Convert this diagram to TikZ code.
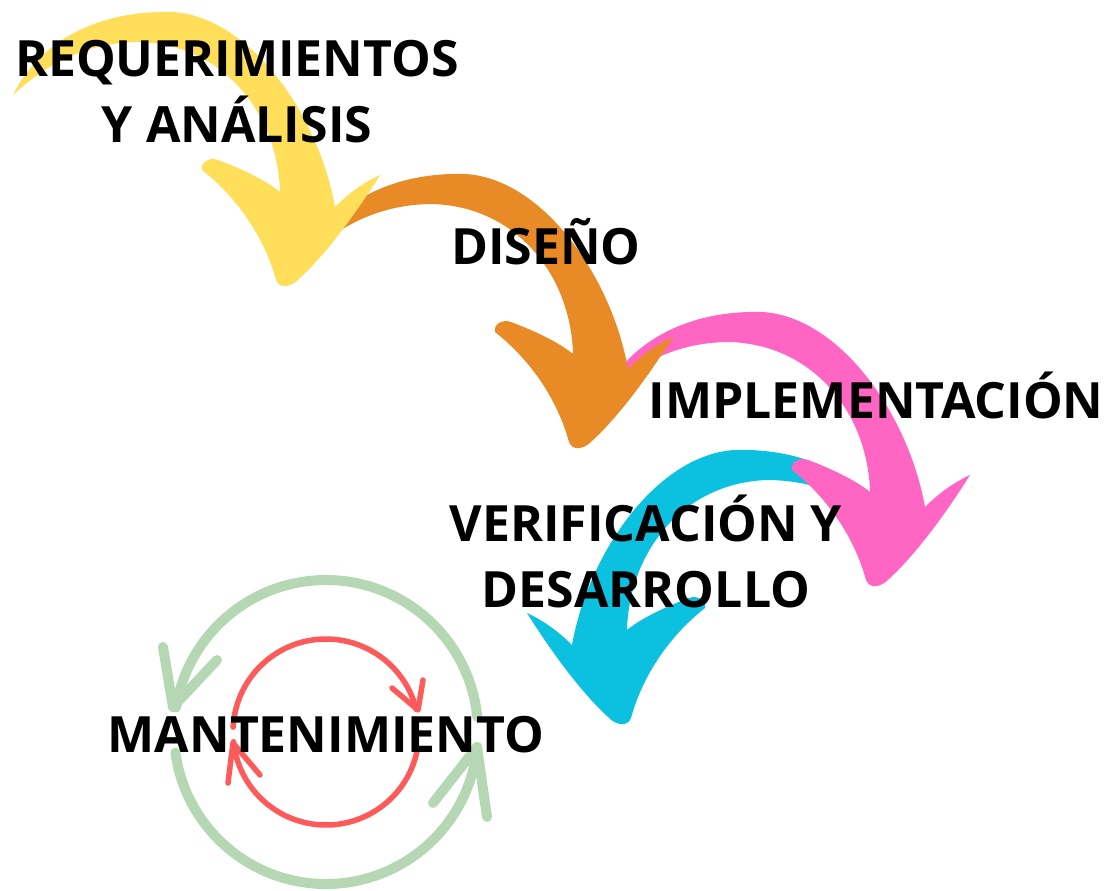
\documentclass[tikz,border=0pt]{standalone}
\usepackage{fontspec}
\setmainfont{Open Sans}
\definecolor{amarillo}{HTML}{FFDE59}
\definecolor{naranja}{HTML}{E88A25}
\definecolor{rosa}{HTML}{FF66C4}
\definecolor{celeste}{HTML}{0CC0DF}
\definecolor{verde}{HTML}{B6D7B4}
\definecolor{rojo}{HTML}{FF5A5A}
% contorno de una flecha curva (la amarilla, en px)
\newcommand{\flecha}{(13,95) .. controls (40,40) and (100,10) .. (172,12)
  .. controls (248,16) and (318,112) .. (335,207)
  .. controls (350,192) and (365,182) .. (380,175)
  .. controls (355,215) and (325,255) .. (300,278)
  .. controls (292,287) and (280,290) .. (276,280)
  .. controls (265,240) and (240,200) .. (202,170)
  .. controls (200,162) and (210,157) .. (218,160)
  .. controls (245,170) and (268,182) .. (280,192)
  .. controls (278,115) and (225,45) .. (140,42)
  .. controls (80,42) and (40,70) .. (13,95) -- cycle}
\tikzset{
  etiqueta/.style={font=\fontsize{50}{66}\selectfont\bfseries, align=center, inner sep=0pt},
  aro/.style={line cap=round, line join=round}
}
\begin{document}
\begin{tikzpicture}[x=1pt,y=-1pt]
  \useasboundingbox (0,0) rectangle (1106,891);
  % flechas
  \fill[celeste, shift={(907,438)}, xscale=-1] \flecha;
  \fill[rosa, shift={(590,300)}] \flecha;
  \fill[naranja, shift={(293,162)}] \flecha;
  \fill[amarillo] \flecha;
  % ciclo de mantenimiento
  \coordinate (c) at (326,732);
  \begin{scope}[aro, verde, line width=10pt]
    \draw (c) ++(-5.7:152) arc[start angle=-5.7, end angle=-170.7, radius=152];
    \draw (c) ++(172.2:152) arc[start angle=172.2, end angle=5.7, radius=152];
    \draw (163,647) -- (173,707) -- (217,660);
    \draw (433,803) -- (477,747) -- (487,817);
  \end{scope}
  \begin{scope}[aro, rojo, line width=5.5pt]
    \draw (c) ++(-177:93) arc[start angle=-177, end angle=-14, radius=93];
    \draw (c) ++(10:93) arc[start angle=10, end angle=174, radius=93];
    \draw (423,680) -- (418,710) -- (392,688);
    \draw (228,783) -- (233,743) -- (260,775);
  \end{scope}
  % textos
  \node[etiqueta] (req) at (237,92) {REQUERIMIENTOS\\Y ANÁLISIS};
  \node[etiqueta, anchor=base] (dis) at (546,264) {DISEÑO};
  \node[etiqueta, anchor=base] (imp) at (876,418) {IMPLEMENTACIÓN};
  \node[etiqueta] (ver) at (646,551) {VERIFICACIÓN Y\\DESARROLLO};
  \node[etiqueta, anchor=base] (man) at (326,752) {MANTENIMIENTO};
\end{tikzpicture}
\end{document}
